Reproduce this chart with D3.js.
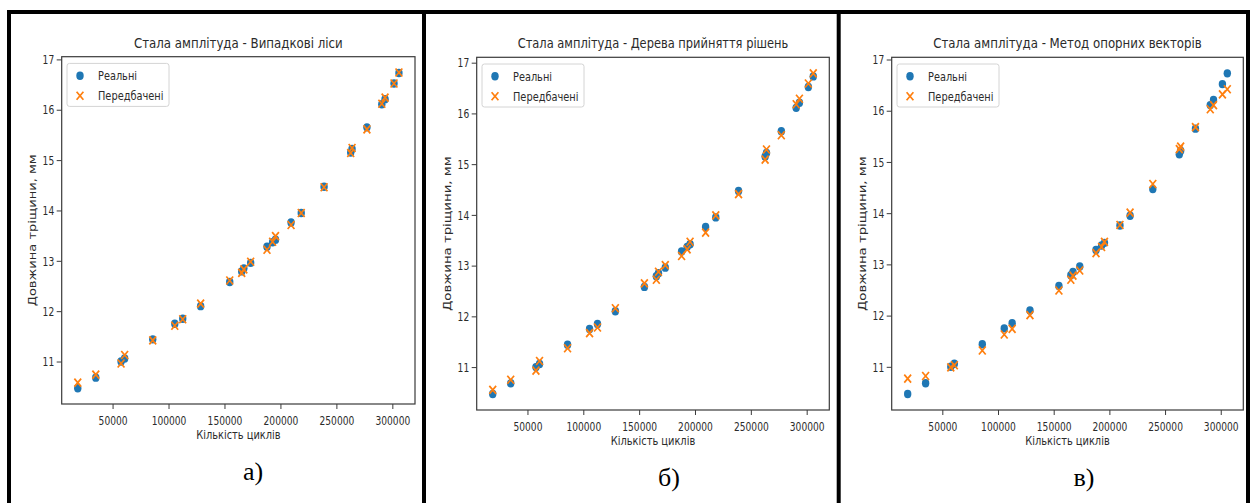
<!DOCTYPE html>
<html><head><meta charset="utf-8">
<script src="https://cdn.jsdelivr.net/npm/d3@7"></script>
<style>body{margin:0;background:#fff} svg{display:block}</style>
</head><body>
<svg id="c" width="1250" height="503"></svg>
<script>
// ---- data ----
const cycles = [18900, 35000, 57600, 60800, 85900, 105600, 112700, 128700, 154700, 165400, 167300, 173400, 188000, 193000, 195600, 209500, 218600, 239000, 262800, 264000, 277300, 290600, 293500, 301500, 305900];
const realLength = [10.47, 10.68, 11.00, 11.06, 11.44, 11.75, 11.85, 12.10, 12.58, 12.79, 12.85, 12.96, 13.28, 13.37, 13.42, 13.76, 13.95, 14.47, 15.15, 15.22, 15.65, 16.11, 16.21, 16.52, 16.73];
const predForest = [10.58, 10.74, 10.96, 11.13, 11.42, 11.71, 11.84, 12.15, 12.61, 12.76, 12.83, 12.98, 13.22, 13.38, 13.49, 13.71, 13.95, 14.46, 15.14, 15.24, 15.61, 16.12, 16.24, 16.52, 16.74];
const predTree = [10.55, 10.75, 10.93, 11.12, 11.37, 11.67, 11.78, 12.16, 12.65, 12.72, 12.88, 13.01, 13.19, 13.32, 13.47, 13.65, 13.99, 14.41, 15.09, 15.29, 15.57, 16.18, 16.29, 16.59, 16.79];
const predSVM = [10.77, 10.82, 10.99, 11.03, 11.32, 11.63, 11.74, 12.01, 12.49, 12.70, 12.78, 12.88, 13.22, 13.34, 13.44, 13.77, 14.01, 14.57, 15.25, 15.30, 15.68, 16.03, 16.11, 16.32, 16.42];
const titles = ["Стала амплітуда - Випадкові ліси", "Стала амплітуда - Дерева прийняття рішень", "Стала амплітуда - Метод опорних векторів"];
const captions = ["а)", "б)", "в)"];
const xTicks = [50000, 100000, 150000, 200000, 250000, 300000];
const yTicks = [11, 12, 13, 14, 15, 16, 17];
const legendLabels = ["Реальні", "Передбачені"];
const xLabel = "Кількість циклів";
const yLabel = "Довжина тріщини, мм";
const predictions = [predForest, predTree, predSVM];

// ---- layout (pixels) ----
const layout = [
  {left: 61.7, right: 415, top: 56.7, bottom: 404, titleW: 209, yLabW: 152, capX: 253, capY: 480},
  {left: 476.7, right: 829.3, top: 57.3, bottom: 410, titleW: 271, yLabW: 155, capX: 669, capY: 486},
  {left: 891.7, right: 1243.3, top: 57.3, bottom: 410, titleW: 268.7, yLabW: 155, capX: 1084, capY: 486}
];
const BLUE = "#1f77b4", ORANGE = "#ff7f0e", INK = "#2b2b2b";
const SX = 0.76;

const svg = d3.select("#c");

// frame lines
const frame = svg.append("g").attr("fill", "#000");
frame.append("rect").attr("x", 7).attr("y", 10).attr("width", 1243).attr("height", 4);
frame.append("rect").attr("x", 7).attr("y", 10).attr("width", 4).attr("height", 493);
frame.append("rect").attr("x", 422).attr("y", 10).attr("width", 4).attr("height", 493);
frame.append("rect").attr("x", 836.7).attr("y", 10).attr("width", 4).attr("height", 493);
frame.append("rect").attr("x", 1246).attr("y", 10).attr("width", 4).attr("height", 493);

function pad(ext) { const r = ext[1] - ext[0]; return [ext[0] - 0.05 * r, ext[1] + 0.05 * r]; }
// horizontally squeeze a text (placed at 0,0) so it spans targetW px
function fit(sel, pre, targetW, post) {
  const w = sel.node().getComputedTextLength();
  sel.attr("transform", `${pre} scale(${targetW / w},1) ${post || ""}`);
}

layout.forEach((L, i) => {
  const pred = predictions[i];
  const x = d3.scaleLinear().domain(pad(d3.extent(cycles))).range([L.left, L.right]);
  const y = d3.scaleLinear().domain(pad(d3.extent(realLength.concat(pred)))).range([L.bottom, L.top]);
  const g = svg.append("g");

  // points
  g.append("g").selectAll("ellipse").data(cycles).join("ellipse")
    .attr("cx", (d) => x(d)).attr("cy", (d, j) => y(realLength[j]))
    .attr("rx", 3.7).attr("ry", 4.2).attr("fill", BLUE);
  g.append("g").selectAll("path").data(cycles).join("path")
    .attr("d", (d, j) => {
      const cx = x(d), cy = y(pred[j]), hx = 3.4, hy = 4;
      return `M${cx-hx},${cy-hy}L${cx+hx},${cy+hy}M${cx-hx},${cy+hy}L${cx+hx},${cy-hy}`;
    })
    .attr("stroke", ORANGE).attr("stroke-width", 1.7).attr("fill", "none");

  // spines
  g.append("rect").attr("x", L.left).attr("y", L.top)
    .attr("width", L.right - L.left).attr("height", L.bottom - L.top)
    .attr("fill", "none").attr("stroke", "#3a3a3a").attr("stroke-width", 1.2);

  // axes
  const ax = g.append("g").attr("transform", `translate(0,${L.bottom})`)
    .call(d3.axisBottom(x).tickValues(xTicks).tickSize(5).tickSizeOuter(0).tickFormat(d3.format("d")));
  ax.select(".domain").remove();
  ax.selectAll("line").attr("stroke", "#3a3a3a").attr("stroke-width", 1);
  ax.selectAll("text").attr("y", null).attr("dy", null)
    .attr("transform", `translate(0,20.5) scale(${SX},1)`)
    .attr("font-family", "DejaVu Sans").attr("font-size", 12).attr("fill", INK);

  const ay = g.append("g").attr("transform", `translate(${L.left},0)`)
    .call(d3.axisLeft(y).tickValues(yTicks).tickSize(5).tickSizeOuter(0).tickFormat(d3.format("d")));
  ay.select(".domain").remove();
  ay.selectAll("line").attr("stroke", "#3a3a3a").attr("stroke-width", 1);
  ay.selectAll("text").attr("x", null).attr("dy", null)
    .attr("transform", `translate(-7.5,4.2) scale(${SX},1)`)
    .attr("font-family", "DejaVu Sans").attr("font-size", 12).attr("fill", INK);

  const cx = (L.left + L.right) / 2, cy = (L.top + L.bottom) / 2;
  // title
  const t = g.append("text").attr("text-anchor", "middle")
    .attr("font-family", "DejaVu Sans").attr("font-size", 14.5).attr("fill", INK).text(titles[i]);
  fit(t, `translate(${cx},${L.top - 9})`, L.titleW);
  // x label
  const xl = g.append("text").attr("text-anchor", "middle")
    .attr("font-family", "DejaVu Sans").attr("font-size", 13).attr("fill", INK).text(xLabel);
  fit(xl, `translate(${cx},${L.bottom + 35})`, 84.5);
  // y label
  const yl = g.append("text").attr("text-anchor", "middle")
    .attr("font-family", "DejaVu Sans").attr("font-size", 13).attr("fill", INK).text(yLabel);
  fit(yl, `translate(${L.left - 25.5},${cy}) scale(${SX},1) rotate(-90)`, L.yLabW);

  // legend
  const lg = g.append("g").attr("transform", `translate(${L.left + 5.3},${L.top + 6.7})`);
  lg.append("rect").attr("width", 102).attr("height", 43).attr("rx", 2.5)
    .attr("fill", "#fff").attr("fill-opacity", 0.8).attr("stroke", "#d4d4d4").attr("stroke-width", 1);
  lg.append("ellipse").attr("cx", 13).attr("cy", 12.3).attr("rx", 3.7).attr("ry", 4.2).attr("fill", BLUE);
  lg.append("path").attr("d", "M9.6,28.3L16.4,36.3M9.6,36.3L16.4,28.3")
    .attr("stroke", ORANGE).attr("stroke-width", 1.7);
  lg.selectAll("text").data(legendLabels).join("text")
    .attr("font-family", "DejaVu Sans").attr("font-size", 12).attr("fill", INK)
    .text((d) => d)
    .each(function (d, k) {
      fit(d3.select(this), `translate(31,${16.5 + k * 20})`, k === 0 ? 39 : 65.5);
    });

  // caption
  svg.append("text").attr("x", L.capX).attr("y", L.capY).attr("text-anchor", "middle")
    .attr("font-family", "Liberation Serif").attr("font-size", 26).attr("fill", "#000")
    .text(captions[i]);
});
</script>
</body></html>
